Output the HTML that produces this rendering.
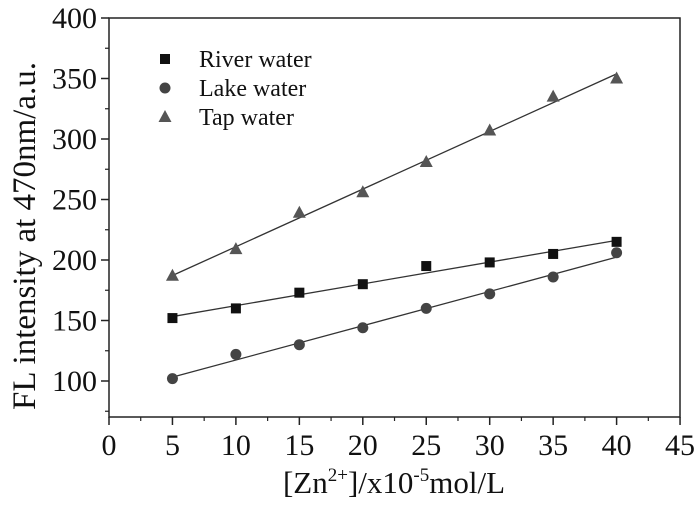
<!DOCTYPE html>
<html><head><meta charset="utf-8"><style>
body{margin:0;background:#fff}
svg text{font-family:"Liberation Serif",serif;fill:#111}
</style></head><body>
<svg id="c" width="700" height="502" xmlns="http://www.w3.org/2000/svg">
<rect x="109" y="18" width="571" height="399" fill="none" stroke="#222" stroke-width="1.5"/>
<g id="g"></g>
<text x="394" y="493" text-anchor="middle" font-size="31">[Zn<tspan dy="-12" font-size="19">2+</tspan><tspan dy="12">]/x10</tspan><tspan dy="-12" font-size="19">-5</tspan><tspan dy="12">mol/L</tspan></text>
<text transform="translate(35,236) rotate(-90)" text-anchor="middle" font-size="33">FL intensity at 470nm/a.u.</text>
</svg>
<script>
const xs=[5,10,15,20,25,30,35,40];
const river=[152,160,173,180,195,198,205,215];
const lake=[102,122,130,144,160,172,186,206];
const tap=[187,209,239,256,281,307,335,350];
const xTicks=[0,5,10,15,20,25,30,35,40,45];
const yTicks=[100,150,200,250,300,350,400];
const seriesNames=["River water","Lake water","Tap water"];
const NS="http://www.w3.org/2000/svg";
const g=document.getElementById('g');
const X=v=>109+v*12.69, Y=v=>381-(v-100)*1.21;
function mk(t,a){const e=document.createElementNS(NS,t);for(const k in a)e.setAttribute(k,a[k]);g.appendChild(e);return e;}
xTicks.forEach(v=>{const l=mk('line',{x1:X(v),x2:X(v),y1:417,y2:425,stroke:'#222','stroke-width':1.5});


if(v<45){const m=mk('line',{x1:X(v+2.5),x2:X(v+2.5),y1:417,y2:421,stroke:'#222','stroke-width':1.2});

}
const t=mk('text',{x:X(v),y:455,'text-anchor':'middle','font-size':30});t.textContent=v;

});
yTicks.forEach(v=>{const l=mk('line',{x1:101,x2:109,y1:Y(v),y2:Y(v),stroke:'#222','stroke-width':1.5});


[v-25].forEach(m=>{if(m>70){const n=mk('line',{x1:105,x2:109,y1:Y(m),y2:Y(m),stroke:'#222','stroke-width':1.2});

}});
const t=mk('text',{x:97,y:Y(v)+10,'text-anchor':'end','font-size':30});t.textContent=v;

});
function fit(ys){const n=xs.length,mx=xs.reduce((a,b)=>a+b)/n,my=ys.reduce((a,b)=>a+b)/n;let sxy=0,sxx=0;xs.forEach((x,i)=>{sxy+=(x-mx)*(ys[i]-my);sxx+=(x-mx)**2});const b=sxy/sxx;return [my-b*mx,b];}
function marker(kind,cx,cy){let e;
if(kind==0)e=mk('rect',{x:cx-5,y:cy-5,width:10,height:10,fill:'#111'});
else if(kind==1)e=mk('circle',{cx:cx,cy:cy,r:5.5,fill:'#444'});
else e=mk('polygon',{points:`${cx},${cy-7} ${cx-6.5},${cy+5} ${cx+6.5},${cy+5}`,fill:'#555'});
return e;}
[river,lake,tap].forEach((ys,k)=>{const [a,b]=fit(ys);
const l=mk('line',{x1:X(5),y1:Y(a+b*5),x2:X(40),y2:Y(a+b*40),stroke:'#333','stroke-width':1.3});


ys.forEach((v,i)=>{const e=marker(k,X(xs[i]),Y(v));

});
const ly=59+k*29;const m=marker(k,165,ly);


const t=mk('text',{x:199,y:ly+8,'font-size':24});t.textContent=seriesNames[k];

});
</script>
</body></html>
